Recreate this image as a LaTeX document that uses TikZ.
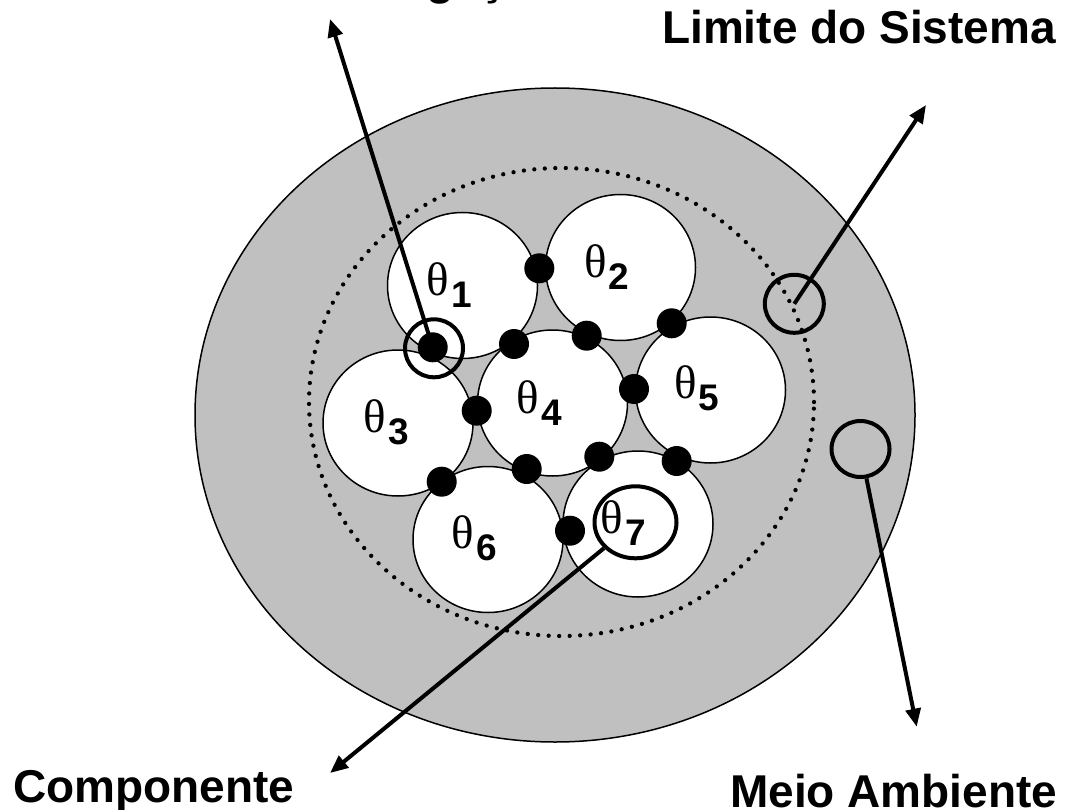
\documentclass[tikz,border=0pt]{standalone}
\usepackage{fontspec}
\setmainfont{Liberation Sans}
\newfontfamily\thf{Liberation Serif}
\usetikzlibrary{shapes.geometric,arrows.meta}
\definecolor{shade}{HTML}{C0C0C0}
\newcommand{\thlab}[1]{{\thf\fontsize{47}{47}\selectfont θ}\kern2pt\raisebox{-12pt}{\fontsize{37}{37}\selectfont\bfseries #1}}
\begin{document}
\begin{tikzpicture}[x=1pt,y=-1pt,
  sysbox/.style={ellipse,draw,fill=shade,line width=1.5pt,inner sep=0pt},
  limit/.style={ellipse,draw,line width=4.3pt,dash pattern=on 0pt off 10.5pt,line cap=round,inner sep=0pt},
  comp/.style={ellipse,draw,fill=white,line width=1.5pt,minimum width=150pt,minimum height=146pt,inner sep=0pt},
  link/.style={circle,fill=black,minimum size=30pt,inner sep=0pt},
  ring/.style={ellipse,draw,line width=4pt,inner sep=0pt},
  arr/.style={line width=4pt,-{Triangle[length=18pt,width=15pt]}},
  bigtxt/.style={anchor=base west,inner sep=0pt,font=\fontsize{46}{50}\selectfont\bfseries},
  thl/.style={anchor=base west,inner sep=0pt}]
\useasboundingbox (0,0) rectangle (1083,810);

% system and boundary
\node[sysbox,minimum width=720pt,minimum height=654pt] (sys) at (555,415) {};
\node[limit,minimum width=505pt,minimum height=468pt] (bound) at (561.5,402) {};

% components
\node[comp] (c1) at (462.5,285.5) {};
\node[comp] (c2) at (620.5,267.5) {};
\node[comp] (c3) at (398,423) {};
\node[comp] (c4) at (552.5,403) {};
\node[comp] (c5) at (710.5,390) {};
\node[comp] (c6) at (488,539.5) {};
\node[comp] (c7) at (638,524) {};

% links
\node[link] (d12) at (539.3,268.3) {};
\node[link] (d13) at (432.7,347.3) {};
\node[link] (d14) at (514,344) {};
\node[link] (d24) at (586.7,335.7) {};
\node[link] (d25) at (671.7,323.3) {};
\node[link] (d34) at (476.7,410.7) {};
\node[link] (d45) at (634,389) {};
\node[link] (d36) at (441.7,481.7) {};
\node[link] (d46) at (526.7,469) {};
\node[link] (d47) at (599.3,456.7) {};
\node[link] (d57) at (676.7,461) {};
\node[link] (d67) at (570,530.7) {};

% labels
\node[thl] (t1) at (426.7,295) {\thlab{1}};
\node[thl] (t2) at (584,277.7) {\thlab{2}};
\node[thl] (t3) at (363.3,432.3) {\thlab{3}};
\node[thl] (t4) at (516.7,413.3) {\thlab{4}};
\node[thl] (t5) at (674,398.3) {\thlab{5}};
\node[thl] (t6) at (451.7,548.3) {\thlab{6}};
\node[thl] (t7) at (600.7,533.3) {\thlab{7}};

% highlight rings
\node[ring,minimum width=58pt,minimum height=58pt] (r1) at (434,348.3) {};
\node[ring,minimum width=82pt,minimum height=72pt] (r7) at (635.5,522.3) {};
\node[ring,minimum width=59pt,minimum height=58pt] (rb) at (794.3,303.8) {};
\node[ring,minimum width=58pt,minimum height=56pt] (re) at (860.5,449) {};

% arrow ends
\coordinate (tipL) at (330,19);
\coordinate (tipS) at (926,105);
\coordinate (tipC) at (330,773);
\coordinate (tipM) at (916.7,726.7);

\draw[arr] (d13.center) -- (tipL);
\draw[arr] (rb.center) -- (tipS);
\draw[arr] (r7) -- (tipC);
\draw[arr] (re) -- (tipM);

% texts
\node[bigtxt] (lig) at (385,-5) {Ligação};
\node[bigtxt] (lim) at (662,43.3) {Limite do Sistema};
\node[bigtxt] (cmp) at (13,802) {Componente};
\node[bigtxt] (mei) at (730,807) {Meio Ambiente};
\end{tikzpicture}
\end{document}
